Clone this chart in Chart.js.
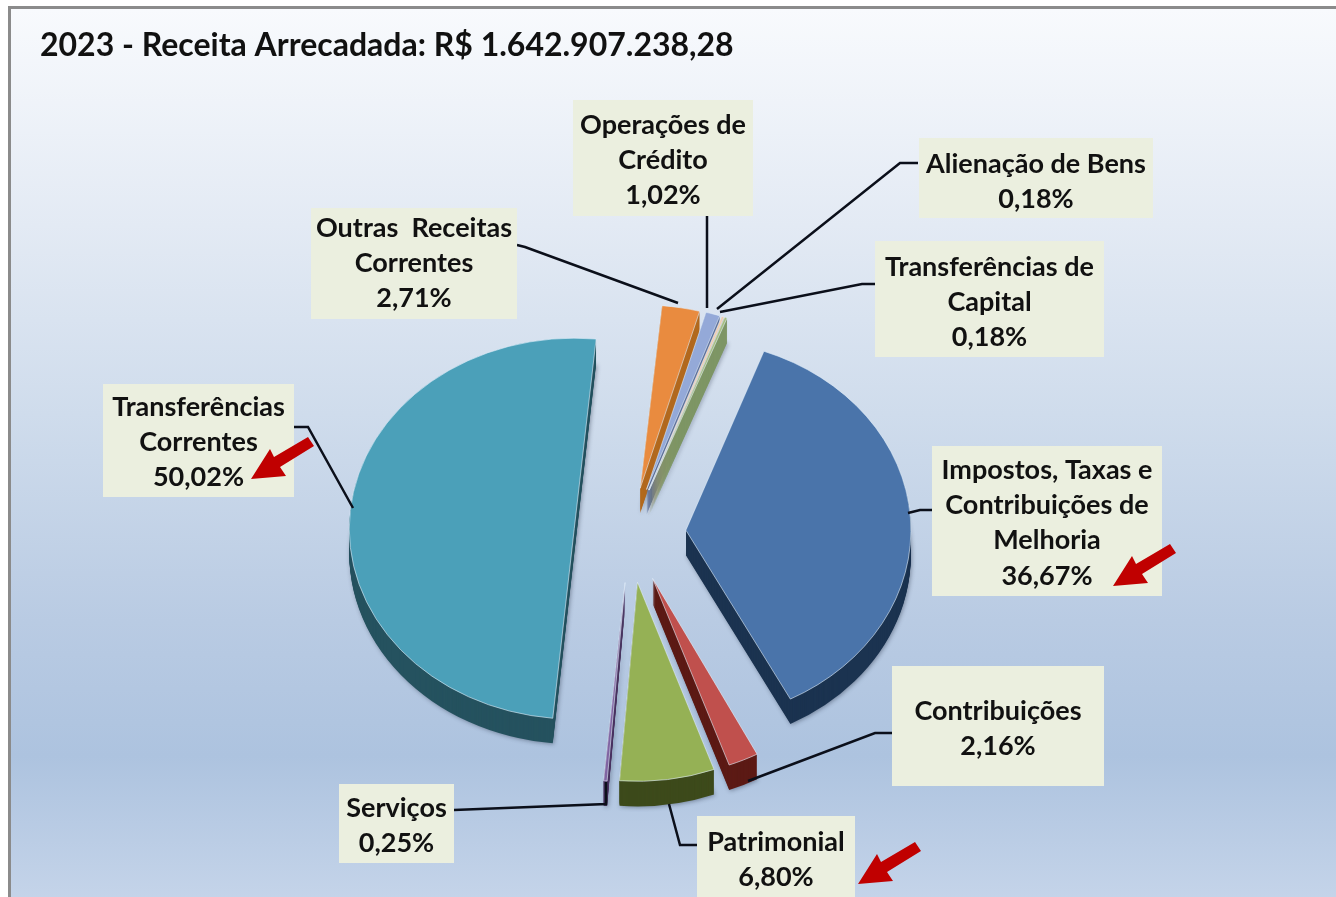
<!DOCTYPE html>
<html>
<head>
<meta charset="utf-8">
<title>Receita Arrecadada 2023</title>
<script src="https://cdn.jsdelivr.net/npm/chart.js@4/dist/chart.umd.min.js"></script>
<style>
    html, body { margin: 0; padding: 0; width: 1336px; height: 897px; overflow: hidden; background: #fff; }
    #panel {
        position: absolute; left: 8px; top: 6px; width: 1340px; height: 900px;
        border-left: 3px solid #8b8b8b; border-top: 3px solid #8b8b8b;
        background: linear-gradient(to bottom, #f8fafd 0%, #e3eaf4 24%, #cfdcec 45%, #b9cbe3 68%, #adc3df 83%, #c6d5ea 100%);
    }
    canvas { position: absolute; left: 0; top: 0; }
</style>
</head>
<body>
<div id="panel"></div>
<canvas id="chart" width="1336" height="897"></canvas>
<script>
// --- Data ---
const TITLE = '2023 - Receita Arrecadada: R$ 1.642.907.238,28';
const categories = ['Impostos, Taxas e Contribuições de Melhoria', 'Contribuições', 'Patrimonial', 'Serviços', 'Transferências Correntes', 'Outras Receitas Correntes', 'Operações de Crédito', 'Alienação de Bens', 'Transferências de Capital'];
const values = [36.67, 2.16, 6.80, 0.25, 50.02, 2.71, 1.02, 0.18, 0.18];

// Wrapped label text, same order as categories
const labelLines = [
    ['Impostos, Taxas e', 'Contribuições de', 'Melhoria'],
    ['Contribuições'],
    ['Patrimonial'],
    ['Serviços'],
    ['Transferências', 'Correntes'],
    ['Outras  Receitas', 'Correntes'],
    ['Operações de', 'Crédito'],
    ['Alienação de Bens'],
    ['Transferências de', 'Capital']
];

// --- Style ---
const topColors = ['#4a74aa', '#c0504d', '#95b155', '#8064a2', '#4ba0b9', '#e98b3f', '#94a9d8', '#f0cdb0', '#a5bd7f'];
const sideColors = ['#1b3350', '#5c1a15', '#3d4a1b', '#4a3560', '#25525f', '#b2691f', '#5d6f99', '#b09078', '#7e9665'];
const SQUASH = 0.85;
const PERSPECTIVE = 0.035;
const DEPTH = 25;
const EXPLODE = 56;

// Label boxes: x, y, w, h and the centre y of the first text line
const labelBoxes = [
    [932, 446, 230, 150, 470],
    [892, 666, 212, 120, 711],
    [697, 816, 158, 81, 842],
    [339, 784, 115, 79, 808],
    [103, 384, 191, 113, 407],
    [311, 208, 206, 111, 228],
    [573, 100, 180, 116, 125],
    [919, 138, 234, 80, 164],
    [875, 241, 229, 116, 267]
];
const LINE_H = 35.3;

// Leader lines
const leaders = [
    [[934, 510], [920, 510], [908, 513]],
    [[892, 733], [875, 733], [748, 781]],
    [[697, 845], [680, 845], [669, 804]],
    [[454, 810], [606, 804], [606, 782]],
    [[294, 427], [308, 427], [353, 508]],
    [[517, 245], [525, 247], [678, 303]],
    [[707, 216], [707, 308]],
    [[918, 163], [900, 163], [717, 309]],
    [[875, 284], [862, 284], [720, 312]]
];

// Red arrows: tip positions and a shape relative to the tip
const arrowTips = [[251, 479], [1113, 586], [858, 884]];
const arrowShape = [[0, 0], [19, -30], [23, -22], [57, -42], [63, -33], [29, -12], [35, -3]];

function sectorPath(ctx, a) {
    ctx.beginPath();
    ctx.moveTo(a.x, a.y);
    ctx.arc(a.x, a.y, a.outerRadius, a.startAngle, a.endAngle);
    ctx.closePath();
}

// moves the context so the slice sits exploded, tilted and dropped by "drop" px
// front slices get a little more height than back ones, like the 3D view
function placeSlice(ctx, a, drop) {
    const mid = (a.startAngle + a.endAngle) / 2;
    ctx.translate(a.x, a.y + drop);
    ctx.scale(1, SQUASH + PERSPECTIVE * Math.sin(mid));
    ctx.translate(-a.x, -a.y);
    ctx.translate(Math.cos(mid) * EXPLODE, Math.sin(mid) * EXPLODE);
}

const pie3d = {
    id: 'pie3d',
    // replaces the normal dataset drawing, the arcs are still the library's
    beforeDatasetsDraw(chart) {
        const ctx = chart.ctx;
        const arcs = chart.getDatasetMeta(0).data;
        const order = arcs.map((a, i) => i).sort((p, q) => {
            const mp = (arcs[p].startAngle + arcs[p].endAngle) / 2;
            const mq = (arcs[q].startAngle + arcs[q].endAngle) / 2;
            return Math.sin(mp) - Math.sin(mq);
        });
        order.forEach(i => {
            const a = arcs[i];
            for (let d = DEPTH; d >= 1; d--) {
                ctx.save();
                if (d === DEPTH) {
                    ctx.shadowColor = 'rgba(40,50,70,0.45)';
                    ctx.shadowBlur = 4;
                    ctx.shadowOffsetX = 1;
                    ctx.shadowOffsetY = 1;
                }
                placeSlice(ctx, a, d);
                ctx.fillStyle = sideColors[i];
                sectorPath(ctx, a);
                ctx.fill();
                ctx.restore();
            }
            ctx.save();
            placeSlice(ctx, a, 0);
            a.draw(ctx);
            ctx.restore();
        });
        return false;
    },
    afterDraw(chart) {
        const ctx = chart.ctx;
        ctx.save();

        // leader lines
        ctx.strokeStyle = '#0b0f1a';
        ctx.lineWidth = 2.5;
        leaders.forEach(pts => {
            ctx.beginPath();
            pts.forEach((p, i) => i ? ctx.lineTo(p[0], p[1]) : ctx.moveTo(p[0], p[1]));
            ctx.stroke();
        });

        // label boxes and text
        ctx.font = 'bold 27px Lato';
        ctx.textAlign = 'center';
        ctx.textBaseline = 'middle';
        labelBoxes.forEach((b, i) => {
            ctx.fillStyle = '#ebefdf';
            ctx.fillRect(b[0], b[1], b[2], b[3]);
            ctx.fillStyle = '#111';
            const cx = b[0] + b[2] / 2;
            const text = labelLines[i].concat(values[i].toFixed(2).replace('.', ',') + '%');
            text.forEach((t, n) => ctx.fillText(t, cx, b[4] + n * LINE_H));
        });

        // arrows
        ctx.fillStyle = '#c00000';
        arrowTips.forEach(tip => {
            ctx.beginPath();
            arrowShape.forEach((p, i) => {
                if (i) ctx.lineTo(tip[0] + p[0], tip[1] + p[1]);
                else ctx.moveTo(tip[0] + p[0], tip[1] + p[1]);
            });
            ctx.closePath();
            ctx.fill();
        });
        ctx.restore();
    }
};

new Chart(document.getElementById('chart').getContext('2d'), {
    type: 'pie',
    data: {
        labels: categories,
        datasets: [{
            data: values,
            backgroundColor: topColors,
            borderColor: 'rgba(225,238,250,0.65)',
            borderWidth: 1
        }]
    },
    options: {
        responsive: false,
        animation: false,
        rotation: 20.3,
        radius: 225,
        layout: { padding: { top: 26, left: 40, right: 116, bottom: 0 } },
        plugins: {
            legend: { display: false },
            tooltip: { enabled: false },
            title: {
                display: true,
                text: TITLE,
                align: 'start',
                color: '#111',
                font: { family: 'Lato', size: 32, weight: 'bold', lineHeight: 1.2 },
                padding: { top: 0, bottom: 105 }
            }
        }
    },
    plugins: [pie3d]
});
</script>
</body>
</html>
